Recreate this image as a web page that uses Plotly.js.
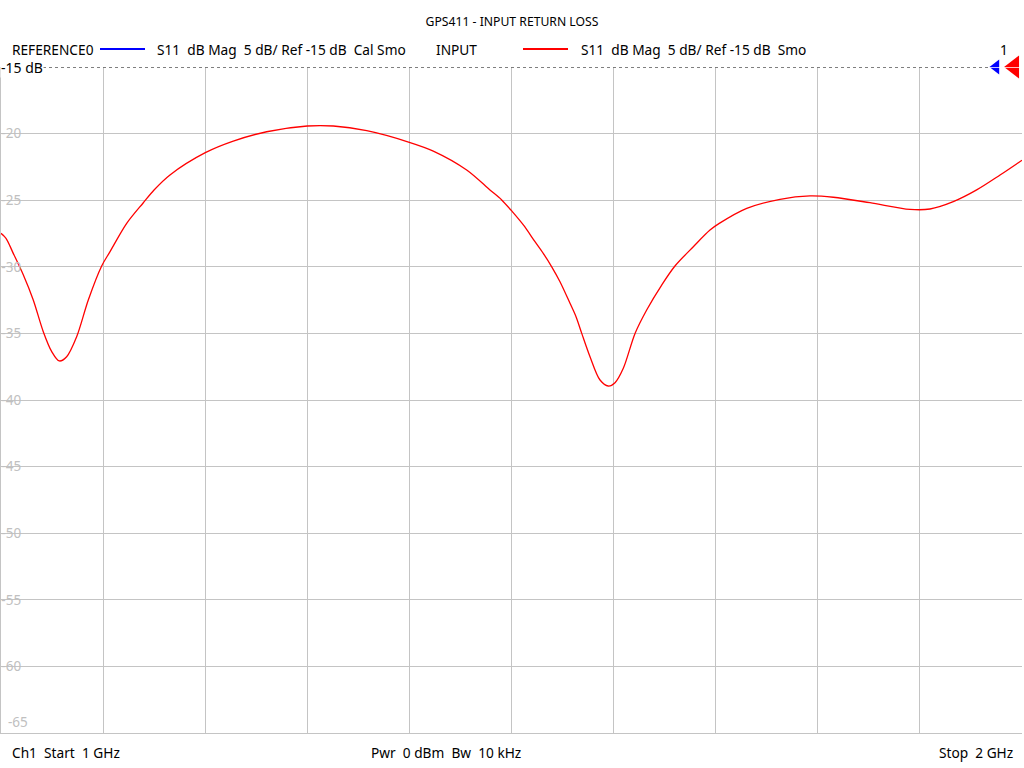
<!DOCTYPE html>
<html>
<head>
<meta charset="utf-8">
<script src="https://cdn.plot.ly/plotly-3.0.1.min.js"></script>
<style>
html,body{margin:0;padding:0;background:#fff;}
#chart{width:1024px;height:768px;}
</style>
</head>
<body>
<div id="chart"></div>
<script>
// ---- data ----
const freqGHz = [1.000,1.0049,1.012,1.0218,1.0316,1.0414,1.0497,1.0571,1.0643,1.0741,1.0855,1.0986,1.1068,1.1231,1.1394,1.1499,1.1655,1.2001,1.2275,1.2602,1.300,1.3255,1.3582,1.3999,1.4234,1.4561,1.4789,1.4904,1.5008,1.5116,1.5230,1.5311,1.5394,1.5475,1.5573,1.5632,1.5688,1.5769,1.5867,1.5948,1.6014,1.6095,1.621,1.6324,1.6471,1.6601,1.6781,1.6944,1.7035,1.7304,1.763,1.7924,1.8152,1.8511,1.8903,1.9099,1.9327,1.9556,1.9785,2.000];
const s11dB = [-27.49,-27.86,-28.99,-30.6,-32.49,-34.87,-36.37,-37.07,-36.75,-35.25,-32.49,-29.94,-28.86,-26.74,-25.19,-24.23,-23.1,-21.43,-20.56,-19.86,-19.43,-19.43,-19.78,-20.65,-21.31,-22.73,-24.23,-24.98,-25.86,-26.86,-28.11,-28.99,-30.0,-31.12,-32.74,-33.75,-35.0,-36.75,-38.5,-38.95,-38.7,-37.62,-35.0,-33.24,-31.37,-29.94,-28.49,-27.24,-26.74,-25.61,-24.93,-24.68,-24.78,-25.19,-25.69,-25.66,-25.11,-24.23,-23.11,-22.0];
const yTickVals = [-65,-60,-55,-50,-45,-40,-35,-30,-25,-20,-15];
const yTickText = ["-65","-60","-55","-50","-45","-40","-35","-30","-25","-20","-15"];
const refLevel = -15;
const chartTitle = "GPS411 - INPUT RETURN LOSS";
const legendRef = ["REFERENCE0", "S11  dB Mag  5 dB/ Ref -15 dB  Cal Smo"];
const legendInput = ["INPUT", "S11  dB Mag  5 dB/ Ref -15 dB  Smo"];
const footer = ["Ch1  Start  1 GHz", "Pwr  0 dBm  Bw  10 kHz", "Stop  2 GHz"];
const refMarkerFreqs = [1.9745, 1.9922];

// keep double spaces visible in SVG text
const keep = s => s.replace(/ {2}/g, ' \u00a0');

// ---- layout helpers (pixel -> paper) ----
const L = 1, R = 1022, T = 67, B = 733;
const px = x => (x - L) / (R - L);
const py = y => (B - y) / (B - T);
const FONT = "Noto Sans, Open Sans, sans-serif";
const FS = 13.7;

const traces = [
  {x: freqGHz, y: s11dB, type: 'scatter', mode: 'lines',
   line: {color: '#ff0000', width: 1.3, shape: 'spline', smoothing: 0.9},
   hoverinfo: 'skip'},
  {x: [refMarkerFreqs[0]], y: [refLevel], type: 'scatter', mode: 'markers', cliponaxis: false,
   marker: {symbol: 'triangle-left', color: '#0000ff', size: 13}, hoverinfo: 'skip'},
  {x: [refMarkerFreqs[1]], y: [refLevel], type: 'scatter', mode: 'markers', cliponaxis: false,
   marker: {symbol: 'triangle-left', color: '#ff0000', size: 20}, hoverinfo: 'skip'}
];

const txt = (text, x, y, anchor, extra) => Object.assign({
  text: keep(text), xref: 'paper', yref: 'paper', x: px(x), y: py(y),
  xanchor: anchor, yanchor: 'middle', showarrow: false, borderpad: 0,
  font: {family: FONT, size: FS, color: '#000'}
}, extra || {});

const layout = {
  width: 1024, height: 768,
  paper_bgcolor: '#fff', plot_bgcolor: '#fff',
  margin: {l: L, r: 1024 - R, t: T, b: 768 - B, pad: 0},
  showlegend: false,
  title: {text: chartTitle, x: 0.5, xanchor: 'center', y: 1 - 22/768, yanchor: 'middle',
          font: {family: FONT, size: 12.2, color: '#000'}},
  xaxis: {range: [1, 2], dtick: 0.1, tick0: 1, showticklabels: false, ticks: '',
          showgrid: true, gridcolor: '#c4c4c4', gridwidth: 1, zeroline: false,
          showline: true, linecolor: '#c4c4c4', linewidth: 1, mirror: false},
  yaxis: {range: [-65, -15], tickvals: yTickVals.slice(1), ticktext: yTickText.slice(1),
          ticklabelposition: 'inside', ticks: '',
          tickfont: {family: FONT, size: 13.5, color: '#c0c0c0'},
          showgrid: true, gridcolor: '#c4c4c4', gridwidth: 1, zeroline: false,
          showline: true, linecolor: '#c4c4c4', linewidth: 1},
  shapes: [
    {type: 'line', xref: 'paper', yref: 'y', x0: 0, x1: 1, y0: refLevel, y1: refLevel,
     line: {color: '#ffffff', width: 1.5}, layer: 'above'},
    {type: 'line', xref: 'paper', yref: 'y', x0: 0, x1: px(990), y0: refLevel, y1: refLevel,
     line: {color: '#000000', width: 1, dash: 'dot'}, layer: 'above'},
    {type: 'line', xref: 'paper', yref: 'paper', x0: px(100), x1: px(145), y0: py(49), y1: py(49),
     line: {color: '#0000ff', width: 2}},
    {type: 'line', xref: 'paper', yref: 'paper', x0: px(523), x1: px(568), y0: py(49), y1: py(49),
     line: {color: '#ff0000', width: 2}}
  ],
  annotations: [
    txt(legendRef[0], 11, 50, 'left'),
    txt(legendRef[1], 156, 50, 'left'),
    txt(legendInput[0], 435, 50, 'left'),
    txt(legendInput[1], 580, 50, 'left'),
    txt("1", 1004, 50, 'center'),
    {text: yTickText[0], xref: 'paper', yref: 'y', x: px(6), y: yTickVals[0], xanchor: 'left', yanchor: 'bottom',
     showarrow: false, font: {family: FONT, size: 13.5, color: '#c0c0c0'}},
    txt("-15 dB", 0, 67, 'left', {bgcolor: '#ffffff', font: {family: FONT, size: 14, color: '#000'}}),
    txt(footer[0], 11, 752, 'left'),
    txt(footer[1], 446, 752, 'center'),
    txt(footer[2], 1014, 752, 'right')
  ]
};

Plotly.newPlot('chart', traces, layout, {staticPlot: true, displayModeBar: false});
</script>
</body>
</html>
